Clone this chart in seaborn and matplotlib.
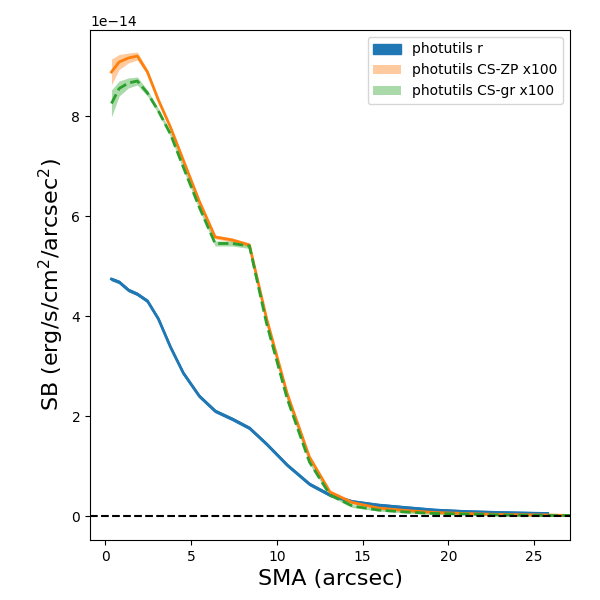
import matplotlib
matplotlib.use("Agg")
import matplotlib.pyplot as plt
import numpy as np
import pandas as pd
import seaborn as sns

# SMA grid (arcsec)
sma = [0.35, 0.8, 1.34, 1.86, 2.45, 3.09, 3.79, 4.54, 5.47, 6.4, 7.4, 8.4,
       9.4, 10.6, 11.9, 13.1, 14.4, 15.9, 17.5, 19.2, 21.0, 23.0, 25.8]
sma_cs = sma[:-1] + [25.8, 27.2]

# surface brightness, units of 1e-14 erg/s/cm2/arcsec2
sb_r = [4.74, 4.68, 4.52, 4.44, 4.30, 3.94, 3.38, 2.86, 2.40, 2.10, 1.94, 1.76,
        1.44, 1.02, 0.64, 0.42, 0.29, 0.22, 0.17, 0.12, 0.09, 0.07, 0.05]
sb_r_err = [0.02] * len(sb_r)

sb_zp = [8.88, 9.08, 9.16, 9.20, 8.88, 8.32, 7.78, 7.12, 6.30, 5.58, 5.52, 5.42,
         3.95, 2.45, 1.18, 0.48, 0.27, 0.16, 0.11, 0.07, 0.05, 0.03, 0.02, 0.01]
sb_zp_err = [0.26, 0.15, 0.10, 0.08, 0.05, 0.04, 0.04, 0.04, 0.04, 0.04, 0.04, 0.04,
             0.04, 0.04, 0.03, 0.03, 0.03, 0.02, 0.02, 0.02, 0.02, 0.02, 0.02, 0.02]

sb_gr = [8.25, 8.55, 8.66, 8.70, 8.46, 8.10, 7.64, 6.98, 6.18, 5.45, 5.45, 5.40,
         3.85, 2.35, 1.08, 0.42, 0.20, 0.12, 0.08, 0.05, 0.04, 0.02, 0.01, 0.01]
sb_gr_err = [0.27, 0.15, 0.10, 0.08, 0.06, 0.05, 0.05, 0.05, 0.05, 0.05, 0.05, 0.05,
             0.05, 0.05, 0.04, 0.03, 0.03, 0.02, 0.02, 0.02, 0.02, 0.02, 0.02, 0.02]

scale = 1e-14
df_r = pd.DataFrame({"sma": sma, "sb": np.array(sb_r) * scale, "err": np.array(sb_r_err) * scale})
df_zp = pd.DataFrame({"sma": sma_cs, "sb": np.array(sb_zp) * scale, "err": np.array(sb_zp_err) * scale})
df_gr = pd.DataFrame({"sma": sma_cs, "sb": np.array(sb_gr) * scale, "err": np.array(sb_gr_err) * scale})

fig, ax = plt.subplots(figsize=(6, 6), dpi=100)
fig.subplots_adjust(left=0.15, right=0.95, top=0.95, bottom=0.1)

ax.fill_between(df_r["sma"], df_r["sb"] - df_r["err"], df_r["sb"] + df_r["err"],
                color="C0", label="photutils r")
sns.lineplot(data=df_r, x="sma", y="sb", color="C0", linewidth=2, ax=ax)

ax.fill_between(df_zp["sma"], df_zp["sb"] - df_zp["err"], df_zp["sb"] + df_zp["err"],
                color="C1", alpha=0.4, linewidth=0, label="photutils CS-ZP x100")
sns.lineplot(data=df_zp, x="sma", y="sb", color="C1", linewidth=2, ax=ax)

ax.fill_between(df_gr["sma"], df_gr["sb"] - df_gr["err"], df_gr["sb"] + df_gr["err"],
                color="C2", alpha=0.4, linewidth=0, label="photutils CS-gr x100")
sns.lineplot(data=df_gr, x="sma", y="sb", color="C2", linewidth=2, linestyle="--", ax=ax)

ax.axhline(0, color="k", linestyle="--", linewidth=1.5)

ax.set_xlim(-0.9, 27.1)
ax.set_ylim(-0.48e-14, 9.72e-14)
ax.set_xlabel("SMA (arcsec)", fontsize=16)
ax.set_ylabel("SB (erg/s/cm$^2$/arcsec$^2$)", fontsize=16)
ax.legend(loc="upper right")

fig.savefig("out.png", dpi=100)
